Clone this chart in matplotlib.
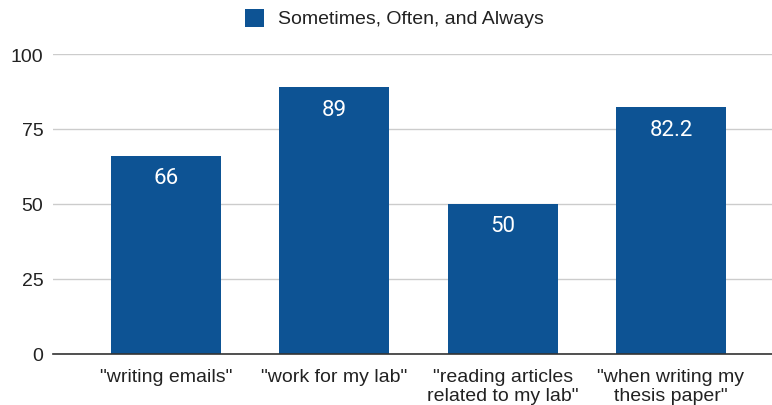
import matplotlib.pyplot as plt
from matplotlib.patches import Rectangle

categories = ['"writing emails"', '"work for my lab"',
              '"reading articles\nrelated to my lab"',
              '"when writing my\nthesis paper"']
values = [66, 89, 50, 82.2]
value_labels = ['66', '89', '50', '82.2']
series_name = 'Sometimes, Often, and Always'
y_ticks = [0, 25, 50, 75, 100]

bar_color = '#0d5394'

fig = plt.figure(figsize=(7.72, 4.06), dpi=100)
ax = fig.add_axes([53 / 772, 1 - 355 / 406, 1 - 53 / 772, 300 / 406])

x = list(range(len(categories)))
bars = ax.bar(x, values, width=0.654, color=bar_color, zorder=3)

for rect, lab in zip(bars, value_labels):
    ax.annotate(lab, (rect.get_x() + rect.get_width() / 2, rect.get_height()),
                xytext=(0, -22), textcoords='offset pixels',
                ha='center', va='center', color='white', fontsize=16,
                family='Roboto', zorder=4)

ax.set_xlim(-0.671, 3.60)
ax.set_ylim(0, 100)
ax.set_yticks(y_ticks)
ax.set_yticklabels([str(t) for t in y_ticks], fontsize=14,
                   family='Liberation Sans', color='#222222')
ax.set_xticks(x)
ax.set_xticklabels(categories, fontsize=14, family='Liberation Sans',
                   color='#222222', linespacing=1.15)
ax.tick_params(axis='both', length=0)
ax.tick_params(axis='y', pad=7)
ax.tick_params(axis='x', pad=10)

ax.grid(axis='y', color='#cccccc', linewidth=1, zorder=0)
for s in ['top', 'right', 'left']:
    ax.spines[s].set_visible(False)
ax.spines['bottom'].set_color('#333333')
ax.spines['bottom'].set_linewidth(1.2)
ax.spines['bottom'].set_zorder(5)

# legend at top
fig.patches.append(Rectangle((245 / 772, 1 - 28 / 406), 19 / 772, 18 / 406,
                             transform=fig.transFigure, facecolor=bar_color,
                             edgecolor='none'))
fig.text(278 / 772, 1 - 19 / 406, series_name, ha='left', va='center',
         fontsize=14, family='Liberation Sans', color='#222222')

fig.savefig('out.png', dpi=100)
